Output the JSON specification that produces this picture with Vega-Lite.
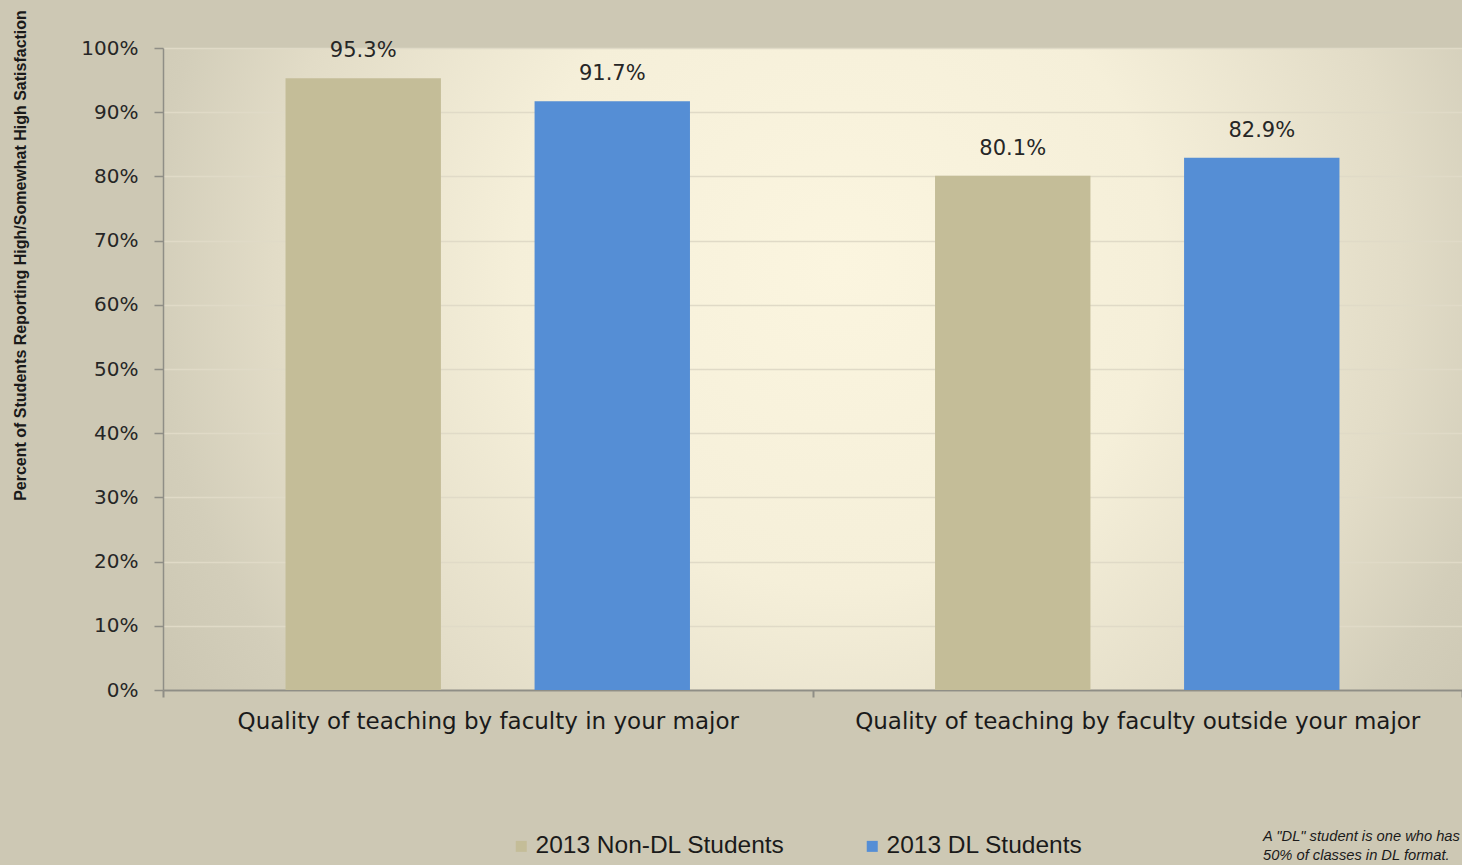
{
  "$schema": "https://vega.github.io/schema/vega-lite/v6.json",
  "autosize": "none",
  "width": 1299,
  "height": 642,
  "padding": {"left": 163, "top": 48, "right": 0, "bottom": 175},
  "background": "#cdc8b4",
  "config": {
    "view": {
      "stroke": null,
      "fill": {
        "gradient": "radial",
        "x1": 0.52, "y1": 0.42, "r1": 0,
        "x2": 0.52, "y2": 0.42, "r2": 0.62,
        "stops": [
          {"offset": 0, "color": "#fbf5df"},
          {"offset": 0.4, "color": "#f5efd9"},
          {"offset": 0.7, "color": "#e2dcc7"},
          {"offset": 0.85, "color": "#d3ceba"},
          {"offset": 1, "color": "#cbc6b2"}
        ]
      }
    },
    "font": "DejaVu Sans"
  },
  "title": {
    "text": ["A \"DL\" student is one who has", "50% of classes in DL format."],
    "orient": "bottom",
    "anchor": "end",
    "align": "left",
    "baseline": "top",
    "dx": -200,
    "offset": 0,
    "dy": -29,
    "font": "Liberation Sans",
    "fontStyle": "italic",
    "fontWeight": "normal",
    "fontSize": 14.7,
    "lineHeight": 19,
    "color": "#1a1a1a"
  },
  "data": {
    "values": [
      {"category": "Quality of teaching by faculty in your major", "group": "2013 Non-DL Students", "value": 0.953, "label": "95.3%"},
      {"category": "Quality of teaching by faculty in your major", "group": "2013 DL Students", "value": 0.917, "label": "91.7%"},
      {"category": "Quality of teaching by faculty outside your major", "group": "2013 Non-DL Students", "value": 0.801, "label": "80.1%"},
      {"category": "Quality of teaching by faculty outside your major", "group": "2013 DL Students", "value": 0.829, "label": "82.9%"}
    ]
  },
  "encoding": {
    "x": {
      "field": "category",
      "type": "nominal",
      "sort": null,
      "scale": {"paddingInner": 0, "paddingOuter": 0},
      "axis": {
        "title": null,
        "labelAngle": 0,
        "labelFont": "DejaVu Sans",
        "labelFontSize": 23,
        "labelColor": "#1a1a1a",
        "labelPadding": 13,
        "labelLimit": 700,
        "domainColor": "#8f8e86",
        "domainWidth": 2,
        "tickColor": "#8f8e86",
        "tickWidth": 2,
        "tickSize": 7,
        "tickBand": "extent"
      }
    },
    "xOffset": {
      "field": "group",
      "type": "nominal",
      "sort": ["2013 Non-DL Students", "2013 DL Students"],
      "scale": {"paddingInner": 0.376, "paddingOuter": 0.492}
    },
    "y": {
      "field": "value",
      "type": "quantitative",
      "scale": {"domain": [0, 1]},
      "axis": {
        "title": "Percent of Students Reporting High/Somewhat High Satisfaction",
        "titleFont": "Liberation Sans",
        "titleFontSize": 16,
        "titleFontWeight": "bold",
        "titleColor": "#1a1a1a",
        "titleAngle": -90,
        "titleAlign": "center",
        "titleBaseline": "middle",
        "titleX": -143,
        "titleY": 207,
        "format": ".0%",
        "values": [0, 0.1, 0.2, 0.3, 0.4, 0.5, 0.6, 0.7, 0.8, 0.9, 1],
        "labelOverlap": false,
        "labelFont": "DejaVu Sans",
        "labelFontSize": 20,
        "labelColor": "#262626",
        "labelPadding": 16,
        "domainColor": "#8f8e86",
        "domainWidth": 1.5,
        "tickColor": "#8f8e86",
        "tickWidth": 1.5,
        "tickSize": 9,
        "grid": true,
        "gridColor": "#e0dac7",
        "gridWidth": 1.5
      }
    }
  },
  "layer": [
    {
      "mark": {"type": "bar"},
      "encoding": {
        "color": {
          "field": "group",
          "type": "nominal",
          "sort": ["2013 Non-DL Students", "2013 DL Students"],
          "scale": {"domain": ["2013 Non-DL Students", "2013 DL Students"], "range": ["#c4bd98", "#558ed5"]},
          "legend": {
            "title": null,
            "orient": "none",
            "direction": "horizontal",
            "legendX": 346,
            "legendY": 786,
            "symbolType": "square",
            "symbolSize": 121,
            "symbolStrokeWidth": 0,
            "labelFont": "Liberation Sans",
            "labelFontSize": 24.5,
            "labelColor": "#1a1a1a",
            "labelOffset": 2,
            "columnPadding": 75,
            "labelLimit": 400
          }
        }
      }
    },
    {
      "mark": {"type": "text", "baseline": "bottom", "dy": -17, "font": "DejaVu Sans", "fontSize": 21, "color": "#262626"},
      "encoding": {"text": {"field": "label"}}
    }
  ]
}
